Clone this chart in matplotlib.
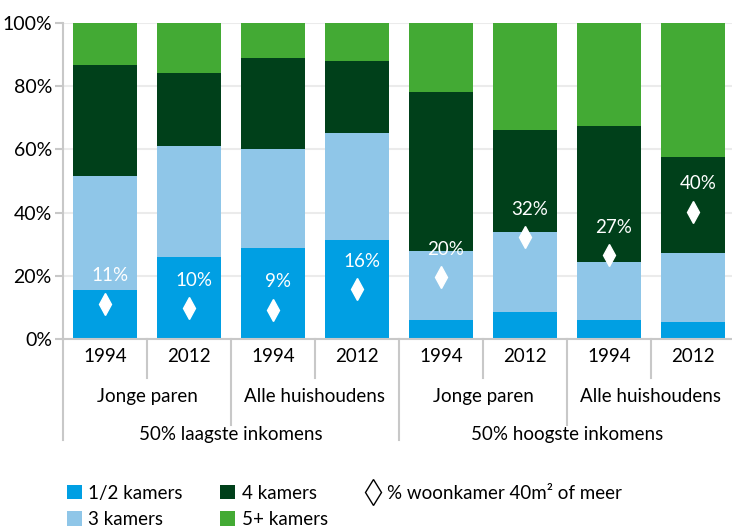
import numpy as np
import matplotlib
matplotlib.use("Agg")
from matplotlib import pyplot as plt
from matplotlib.patches import Patch
from matplotlib.lines import Line2D

plt.rcParams['font.family'] = ['Lato', 'DejaVu Sans']

# data (percent of households)
years = ['1994', '2012', '1994', '2012', '1994', '2012', '1994', '2012']
groups = ['Jonge paren', 'Alle huishoudens', 'Jonge paren', 'Alle huishoudens']
incomes = ['50% laagste inkomens', '50% hoogste inkomens']

kamers_12 = [15.6, 25.8, 28.7, 31.2, 6.1, 8.6, 5.9, 5.5]
kamers_3 = [35.9, 35.4, 31.4, 34.0, 21.6, 25.3, 18.4, 21.8]
kamers_4 = [35.3, 22.9, 28.7, 22.9, 50.5, 32.1, 43.0, 30.2]
kamers_5 = [13.2, 15.9, 11.2, 11.9, 21.8, 34.0, 32.7, 42.5]
woonkamer_40 = [11.2, 9.8, 9.3, 15.8, 19.5, 32.2, 26.5, 40.3]
woonkamer_lbl = ['11%', '10%', '9%', '16%', '20%', '32%', '27%', '40%']

series = [kamers_12, kamers_3, kamers_4, kamers_5]
names = ['1/2 kamers', '3 kamers', '4 kamers', '5+ kamers']
colors = ['#009fe3', '#8fc6e8', '#00401a', '#43aa34']

fs = 13.5

fig = plt.figure(figsize=(7.32, 5.29), dpi=100)
ax = fig.add_axes([63/732, 1-339/529, 672/732, 316/529])

x = np.arange(len(years))
bottom = np.zeros(len(years))
for vals, col in zip(series, colors):
    ax.bar(x, vals, width=0.76, bottom=bottom, color=col, edgecolor='none', zorder=2)
    bottom += np.array(vals)

ax.plot(x, woonkamer_40, linestyle='none', marker='d', markersize=11,
        markerfacecolor='white', markeredgecolor='white', zorder=3)
for xi, yi, lbl in zip(x, woonkamer_40, woonkamer_lbl):
    ax.text(xi + 0.06, yi + 8.8, lbl, color='white', ha='center', va='center',
            fontsize=fs, zorder=4)

ax.set_xlim(-0.5, 7.5)
ax.set_ylim(0, 100)
ax.set_yticks([0, 20, 40, 60, 80, 100])
ax.set_yticklabels(['0%', '20%', '40%', '60%', '80%', '100%'], fontsize=14)
ax.yaxis.grid(True, color='#ebebeb', linewidth=1.5, zorder=0)
ax.tick_params(axis='y', length=6, color='#c8c8c8', width=1.5, pad=2)
ax.set_xticks([])
for s in ['top', 'right']:
    ax.spines[s].set_visible(False)
ax.spines['left'].set_color('#c8c8c8')
ax.spines['bottom'].set_color('#c8c8c8')
ax.spines['left'].set_linewidth(1.5)
ax.spines['bottom'].set_linewidth(1.5)

# multi-level category axis
tr = ax.get_xaxis_transform()
sep_kw = dict(color='#c8c8c8', linewidth=1.5, transform=tr, clip_on=False)
for xi, yi in zip(x, years):
    ax.text(xi, -0.055, yi, transform=tr, ha='center', va='center', fontsize=fs)
for b in np.arange(0.5, 7.5, 1.0):
    if b == 3.5:
        depth = -0.32
    elif b in (1.5, 5.5):
        depth = -0.272
    else:
        depth = -0.123
    ax.plot([b, b], [0, depth], **sep_kw)
ax.plot([-0.5, -0.5], [0, -0.32], **sep_kw)

for i, g in enumerate(groups):
    ax.text(2*i + 0.5, -0.183, g, transform=tr, ha='center', va='center', fontsize=fs)
for i, g in enumerate(incomes):
    ax.text(4*i + 1.5, -0.303, g, transform=tr, ha='center', va='center', fontsize=fs)

handles = [Patch(facecolor=colors[0], label=names[0]),
           Patch(facecolor=colors[1], label=names[1]),
           Patch(facecolor=colors[2], label=names[2]),
           Patch(facecolor=colors[3], label=names[3]),
           Line2D([], [], linestyle='none', marker='d', markersize=13,
                  markerfacecolor='white', markeredgecolor='black',
                  markeredgewidth=1, label='% woonkamer 40m² of meer')]
fig.legend(handles=handles, ncol=3, loc='lower left', bbox_to_anchor=(0.068, -0.03),
           frameon=False, fontsize=fs, handlelength=0.8, handleheight=0.8,
           handletextpad=0.35, columnspacing=2.0, labelspacing=0.5)

fig.savefig('out.png', dpi=100)
